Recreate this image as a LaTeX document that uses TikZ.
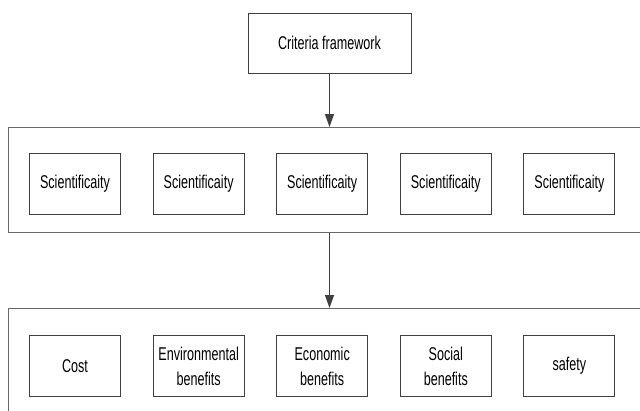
\documentclass[tikz,border=0pt]{standalone}
\usepackage{fontspec}
\setmainfont[FakeStretch=0.68]{Liberation Sans}
\usetikzlibrary{arrows.meta}
\definecolor{boxline}{HTML}{404040}
\definecolor{contline}{HTML}{6A6A6A}
\tikzset{
  itembox/.style={draw=boxline, line width=1pt, minimum width=91pt, minimum height=61pt, align=center, inner sep=0pt, font=\fontsize{18.5}{25}\selectfont},
  topbox/.style={draw=boxline, line width=1pt, minimum width=163pt, minimum height=60pt, align=center, inner sep=0pt, font=\fontsize{18.5}{25}\selectfont},
  container/.style={draw=contline, line width=1.4pt, anchor=north west, inner sep=0pt},
  flow/.style={draw=boxline, line width=1.4pt, -{Triangle[length=13pt,width=9pt]}}
}
\begin{document}
\begin{tikzpicture}[x=1pt,y=-1pt]
\useasboundingbox (0,0) rectangle (640,410);
\clip (0,0) rectangle (640,410);
\fill[white] (0,0) rectangle (640,410);
\node[topbox] (top) at (329.5,43) {Criteria framework};
\node[container, minimum width=650pt, minimum height=105pt] (c1) at (8,127) {};
\node[container, minimum width=650pt, minimum height=150pt] (c2) at (8,308) {};
\foreach \i/\x in {1/75,2/198.6,3/322.2,4/445.8,5/569.4}{
  \node[itembox] (s\i) at (\x,183.5) {Scientificaity};
}
\node[itembox] (b1) at (75,366) {Cost};
\node[itembox] (b2) at (198.6,366) {Environmental\\benefits};
\node[itembox] (b3) at (322.2,366) {Economic\\benefits};
\node[itembox] (b4) at (445.8,366) {Social\\benefits};
\node[itembox] (b5) at (569.4,366) {safety};
\draw[flow] (top.south) -- (top.south |- c1.north);
\draw[flow] (top.south |- c1.south) -- (top.south |- c2.north);
\end{tikzpicture}
\end{document}
